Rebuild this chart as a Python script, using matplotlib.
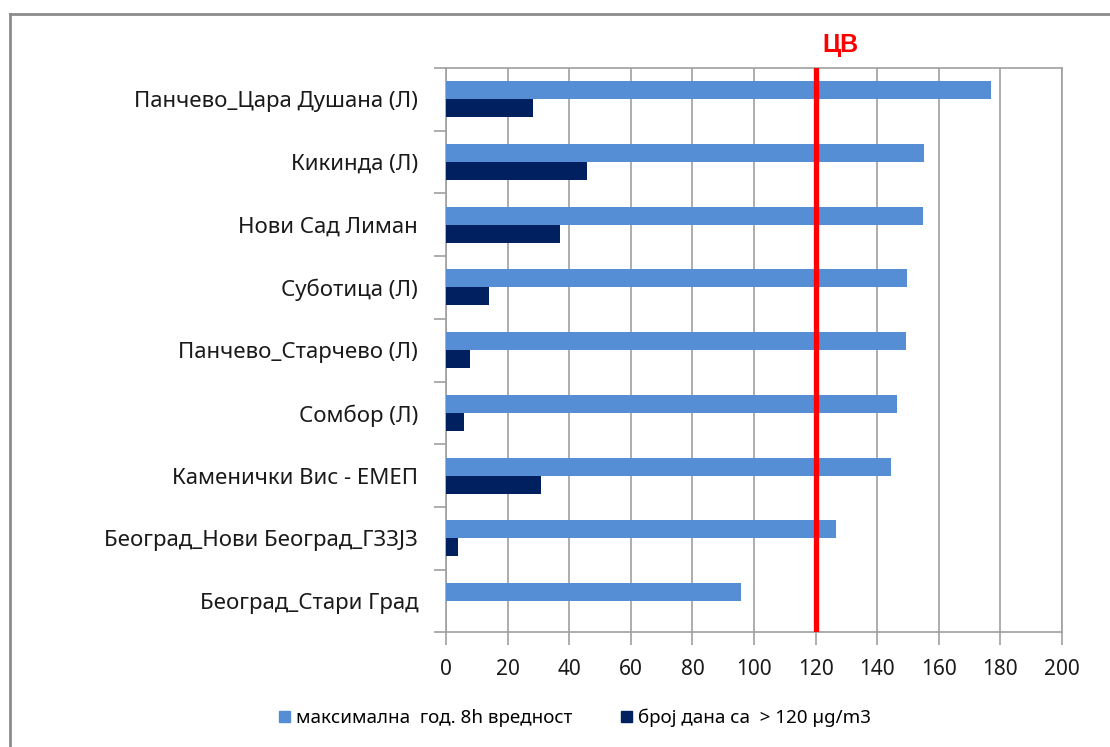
import matplotlib

matplotlib.use("Agg", force=True)
import matplotlib.pyplot as plt
import numpy as np
from matplotlib.lines import Line2D
from matplotlib.patches import Patch

plt.rcParams["font.family"] = ["Noto Sans", "DejaVu Sans"]

stations = [
    "Панчево_Цара Душана (Л)",
    "Кикинда (Л)",
    "Нови Сад Лиман",
    "Суботица (Л)",
    "Панчево_Старчево (Л)",
    "Сомбор (Л)",
    "Каменички Вис - ЕМЕП",
    "Београд_Нови Београд_ГЗЗЈЗ",
    "Београд_Стари Град",
]
max_8h = [176.9, 155.3, 155.0, 149.8, 149.2, 146.5, 144.5, 126.6, 95.7]
days_over = [28.2, 45.8, 36.9, 13.9, 7.8, 5.8, 30.9, 3.8, 0.0]
limit_value = 120
x_ticks = [0, 20, 40, 60, 80, 100, 120, 140, 160, 180, 200]

LIGHT = "#558ed5"
DARK = "#002060"
GRID = "#a0a0a0"

fig = plt.figure(figsize=(11.10, 7.47), dpi=100)
ax = fig.add_axes([0.4018, 0.1535, 0.5550, 0.7555])

pos = np.arange(len(stations))
h = 0.287
ax.barh(pos - h / 2, max_8h, height=h, color=LIGHT, zorder=3)
ax.barh(pos + h / 2, days_over, height=h, color=DARK, zorder=3)

ax.axvline(limit_value, color="#ff0000", linewidth=3.8, zorder=4)
ax.annotate("ЦВ", xy=(limit_value, 1.02), xycoords=ax.get_xaxis_transform(),
            xytext=(5, 0), textcoords="offset points",
            color="#ff0000", fontsize=18, fontweight="bold",
            family=["Liberation Sans", "DejaVu Sans"], ha="left", va="bottom")

ax.set_xlim(0, 200)
ax.set_ylim(len(stations) - 0.5, -0.5)
ax.set_xticks(x_ticks)
ax.set_yticks(pos)
ax.set_yticklabels(stations)
ax.set_yticks(np.arange(len(stations) + 1) - 0.5, minor=True)
ax.tick_params(axis="y", which="major", length=0, pad=20, labelsize=16, labelcolor="#1a1a1a")
ax.tick_params(axis="y", which="minor", length=9, width=1.2, color=GRID)
ax.tick_params(axis="x", length=9, width=1.2, color=GRID, pad=10, labelsize=15, labelcolor="#1a1a1a")

ax.grid(axis="x", color=GRID, linewidth=1.2, zorder=0)
for sp in ax.spines.values():
    sp.set_color(GRID)
    sp.set_linewidth(1.2)

handles = [Patch(color=LIGHT), Patch(color=DARK)]
fig.legend(handles, ["максимална  год. 8h вредност", "број дана са  > 120 µg/m3"],
           loc="center", bbox_to_anchor=(0.518, 0.039), ncol=2, frameon=False,
           fontsize=13.5, handlelength=0.6, handleheight=0.6, handletextpad=0.3,
           columnspacing=2.6)

# outer chart-area border (runs off the right/bottom edge)
fig.add_artist(Line2D([10 / 1110, 1.0], [1 - 14 / 747, 1 - 14 / 747],
                      transform=fig.transFigure, color="#8c8c8c", linewidth=2))
fig.add_artist(Line2D([10 / 1110, 10 / 1110], [0.0, 1 - 14 / 747],
                      transform=fig.transFigure, color="#8c8c8c", linewidth=2))

fig.savefig("out.png", dpi=100)
